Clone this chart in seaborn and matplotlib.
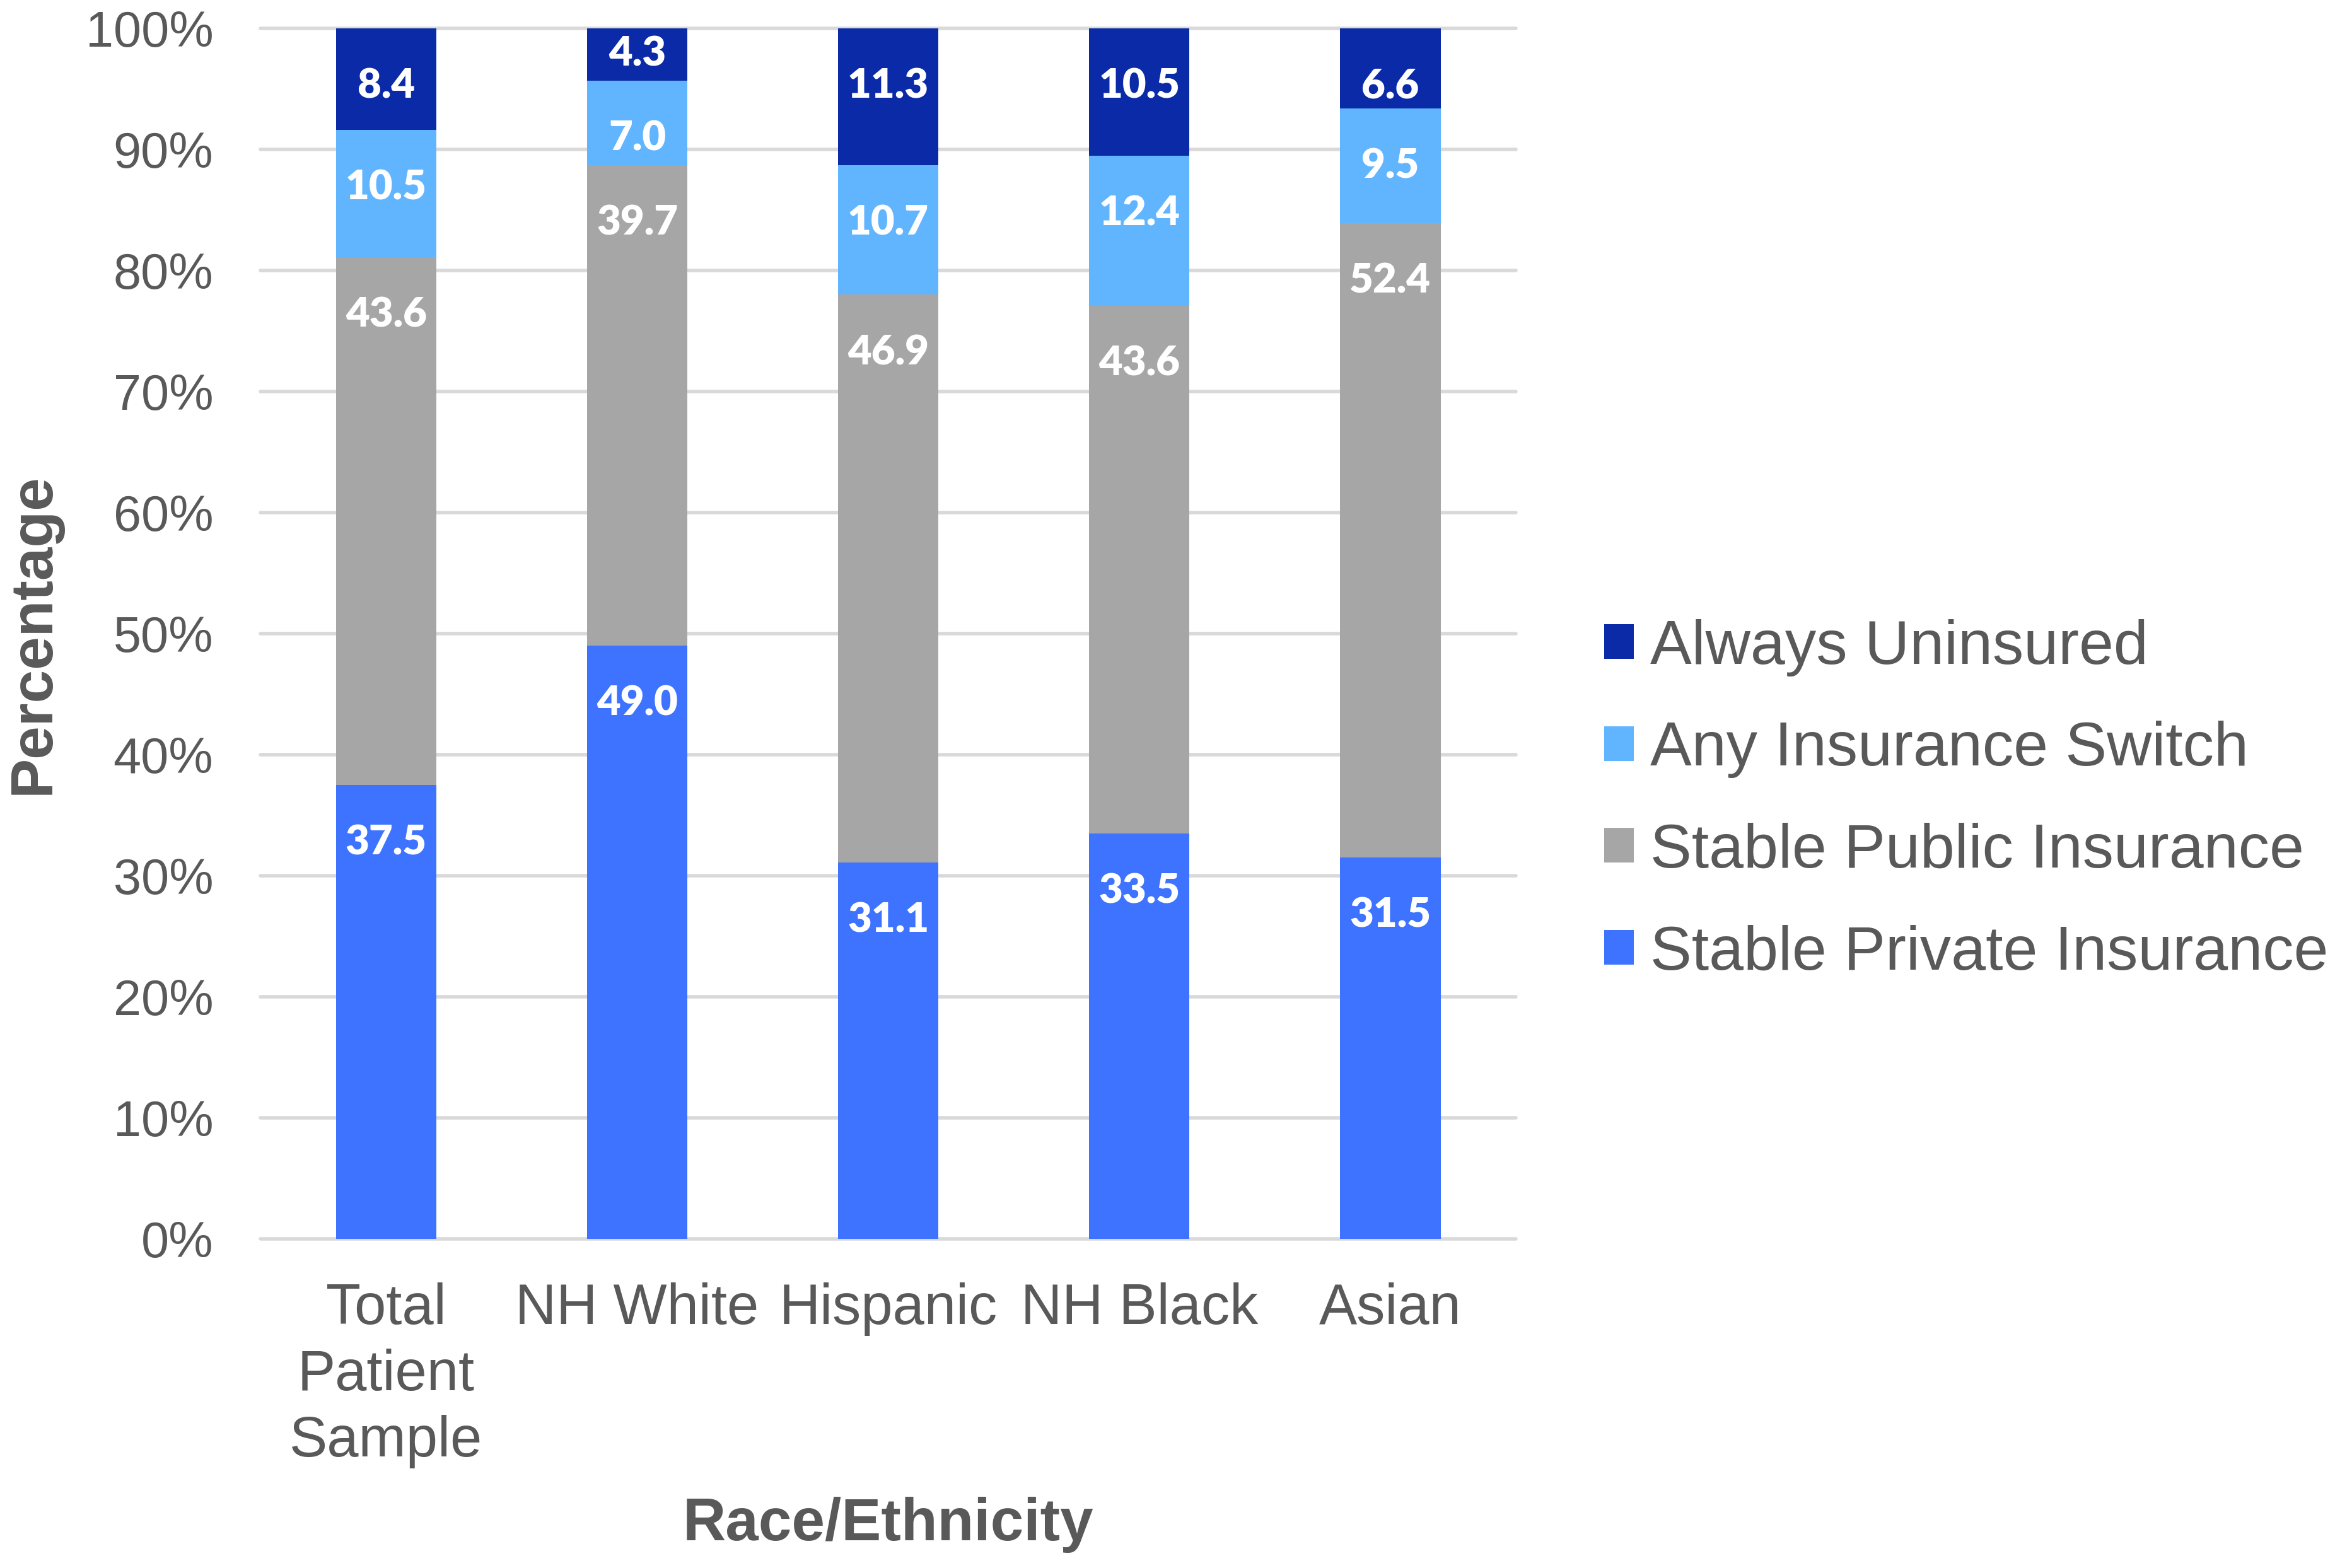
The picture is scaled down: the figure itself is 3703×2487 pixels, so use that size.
import pandas as pd
import seaborn as sns
import matplotlib.pyplot as plt
from matplotlib.patches import Patch

# Data (percent of patients)
groups = ['Total\nPatient\nSample', 'NH White', 'Hispanic', 'NH Black', 'Asian']
private = [37.5, 49.0, 31.1, 33.5, 31.5]
public = [43.6, 39.7, 46.9, 43.6, 52.4]
switch = [10.5, 7.0, 10.7, 12.4, 9.5]
uninsured = [8.4, 4.3, 11.3, 10.5, 6.6]
yticks = [0, 10, 20, 30, 40, 50, 60, 70, 80, 90, 100]

series = ['Stable Private Insurance', 'Stable Public Insurance',
          'Any Insurance Switch', 'Always Uninsured']
colors = ['#3D73FF', '#A6A6A6', '#61B5FF', '#0A2AA8']
text_gray = '#595959'

df = pd.DataFrame({'group': groups, series[0]: private, series[1]: public,
                   series[2]: switch, series[3]: uninsured})
cum = df[series].cumsum(axis=1)
cum['group'] = df['group']

sns.set_style('white')
plt.rcParams['font.family'] = ['Liberation Sans', 'DejaVu Sans']

fig = plt.figure(figsize=(37.03, 24.87), dpi=100)
ax = fig.add_axes([0.1116, 0.2099, 0.5376, 0.772])

# stacked bars: draw cumulative totals from the top segment down
for name, color in reversed(list(zip(series, colors))):
    sns.barplot(data=cum, x='group', y=name, color=color, saturation=1,
                width=0.4, linewidth=0, ax=ax, zorder=2)

# gridlines
for t in yticks:
    ax.axhline(t, color='#D9D9D9', lw=4, zorder=1, clip_on=False)

# data labels (inside end, centred if segment too short)
for i in range(len(groups)):
    bottom = 0
    for name in series:
        v = df[name][i]
        top = bottom + v
        y = top - 4.8 if v >= 5.5 else bottom + v / 2
        ax.text(i, y, f'{v:.1f}', ha='center', va='center', color='white',
                fontsize=47, fontweight='heavy', family=['Lato', 'DejaVu Sans'],
                zorder=3)
        bottom = top

ax.set_ylim(0, 100)
ax.set_xlim(-0.5, len(groups) - 0.5)
ax.set_yticks(yticks)
ax.set_yticklabels([f'{t}%' for t in yticks])
for s in ax.spines.values():
    s.set_visible(False)
ax.tick_params(axis='y', length=0, pad=54, labelsize=57, labelcolor=text_gray)
ax.tick_params(axis='x', length=0, pad=50, labelsize=65, labelcolor=text_gray)
for lbl in ax.get_xticklabels():
    lbl.set_linespacing(1.3)

ax.set_xlabel('Race/Ethnicity', fontsize=68, fontweight='bold', color=text_gray,
              va='center')
ax.xaxis.set_label_coords(0.5, -0.236)
ax.set_ylabel('Percentage', fontsize=68, fontweight='bold', color=text_gray,
              va='center')
ax.yaxis.set_label_coords(-0.181, 0.5)

leg_ax = ax.get_legend()
if leg_ax is not None:
    leg_ax.remove()

handles = [Patch(facecolor=c, edgecolor='none') for c in colors][::-1]
labels = series[::-1]
fig.legend(handles, labels, loc='center left', bbox_to_anchor=(0.687, 0.4895),
           frameon=False, fontsize=71, handlelength=0.48, handleheight=0.48,
           handletextpad=0.26, labelspacing=0.715, borderpad=0, borderaxespad=0,
           labelcolor=text_gray)

fig.savefig('out.png', dpi=100)
